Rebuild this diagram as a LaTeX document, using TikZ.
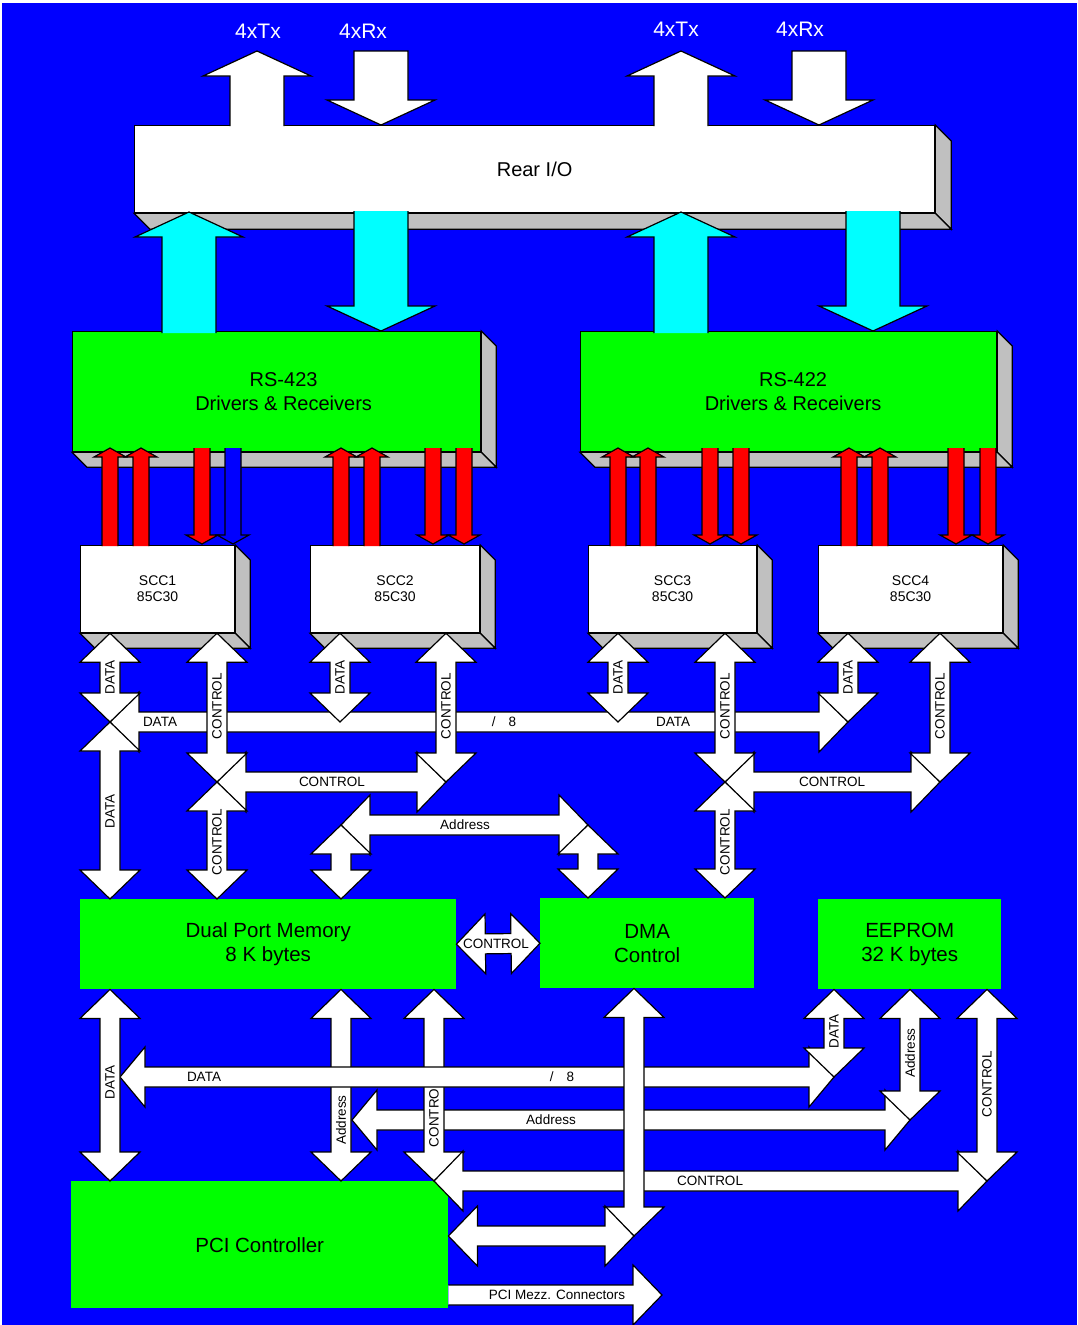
\documentclass[tikz,border=0pt]{standalone}
\usepackage{fontspec}
\setmainfont{Liberation Sans}
\usetikzlibrary{calc}
\definecolor{facegray}{RGB}{192,192,192}
\definecolor{aqua}{RGB}{0,255,255}
\definecolor{lime}{RGB}{0,255,0}
\definecolor{deepblue}{RGB}{0,0,255}
\definecolor{pured}{RGB}{255,0,0}

\begin{document}
\begin{tikzpicture}[x=1pt, y=-1pt,
  blk/.style={draw=black, line width=1.2pt, line join=miter},
  box/.style={blk, fill=white, inner sep=0pt, anchor=north west, align=center},
  mem/.style={fill=lime, inner sep=0pt, anchor=north west, align=center, font=\fontsize{20.5}{24}\selectfont},
  face/.style={blk, fill=facegray},
  lbl/.style={inner sep=0pt, font=\fontsize{13.5}{15}\selectfont},
  vlbl/.style={lbl, rotate=90},
  toplbl/.style={inner sep=0pt, text=white, font=\fontsize{21}{24}\selectfont},
  dims/.code args={#1/#2/#3}{\def\aL{#1}\def\aH{#2}\def\aS{#3}},
  two heads/.style={to path={
    -- ($(\tikztostart)!\aL!(\tikztotarget)!\aH!90:(\tikztotarget)$)
    -- ($(\tikztostart)!\aL!(\tikztotarget)!\aS!90:(\tikztotarget)$)
    -- ($(\tikztotarget)!\aL!(\tikztostart)!\aS!-90:(\tikztostart)$)
    -- ($(\tikztotarget)!\aL!(\tikztostart)!\aH!-90:(\tikztostart)$)
    -- (\tikztotarget)
    -- ($(\tikztotarget)!\aL!(\tikztostart)!\aH!90:(\tikztostart)$)
    -- ($(\tikztotarget)!\aL!(\tikztostart)!\aS!90:(\tikztostart)$)
    -- ($(\tikztostart)!\aL!(\tikztotarget)!\aS!-90:(\tikztotarget)$)
    -- ($(\tikztostart)!\aL!(\tikztotarget)!\aH!-90:(\tikztotarget)$)
    -- cycle}},
  one head/.style={to path={
    ($(\tikztostart)!\aS!90:(\tikztotarget)$)
    -- ($(\tikztotarget)!\aL!(\tikztostart)!\aS!-90:(\tikztostart)$)
    -- ($(\tikztotarget)!\aL!(\tikztostart)!\aH!-90:(\tikztostart)$)
    -- (\tikztotarget)
    -- ($(\tikztotarget)!\aL!(\tikztostart)!\aH!90:(\tikztostart)$)
    -- ($(\tikztotarget)!\aL!(\tikztostart)!\aS!90:(\tikztostart)$)
    -- ($(\tikztostart)!\aS!-90:(\tikztotarget)$)
    -- cycle}},
  open head/.style={to path={
    ($(\tikztostart)!\aS!90:(\tikztotarget)$)
    -- ($(\tikztotarget)!\aL!(\tikztostart)!\aS!-90:(\tikztostart)$)
    -- ($(\tikztotarget)!\aL!(\tikztostart)!\aH!-90:(\tikztostart)$)
    -- (\tikztotarget)
    -- ($(\tikztotarget)!\aL!(\tikztostart)!\aH!90:(\tikztostart)$)
    -- ($(\tikztotarget)!\aL!(\tikztostart)!\aS!90:(\tikztostart)$)
    -- ($(\tikztostart)!\aS!-90:(\tikztotarget)$)}},
  bus/.style={blk, fill=white, dims=29pt/30pt/10pt, two heads},
  fatarr/.style={blk, fill=white, dims=25pt/54pt/27pt},
  redarr/.style={blk, fill=pured, dims=9pt/16pt/8pt, open head},
]
\useasboundingbox (0,0) rectangle (1077,1325);
\fill[deepblue] (2,3) rectangle (1077,1325);

% boxes
\node[box, minimum width=800pt, minimum height=87pt, font=\fontsize{20}{24}\selectfont] (rio) at (134,125) {Rear I/O};
\node[box, fill=lime, minimum width=408pt, minimum height=120pt, font=\fontsize{20}{24}\selectfont] (rs3) at (72,331) {\hspace*{14pt}RS-423\\\hspace*{14pt}Drivers \& Receivers};
\node[box, fill=lime, minimum width=416pt, minimum height=120pt, font=\fontsize{20}{24}\selectfont] (rs2) at (580,331) {\hspace*{9pt}RS-422\\\hspace*{9pt}Drivers \& Receivers};
\node[box, minimum width=154pt, minimum height=87pt, font=\fontsize{14}{16}\selectfont] (scc1) at (80,545) {SCC1\\85C30};
\node[box, minimum width=169pt, minimum height=87pt, font=\fontsize{14}{16}\selectfont] (scc2) at (310,545) {SCC2\\85C30};
\node[box, minimum width=168pt, minimum height=87pt, font=\fontsize{14}{16}\selectfont] (scc3) at (588,545) {SCC3\\85C30};
\node[box, minimum width=184pt, minimum height=87pt, font=\fontsize{14}{16}\selectfont] (scc4) at (818,545) {SCC4\\85C30};
\foreach \b/\dd in {rio/16,rs3/15,rs2/15,scc1/15,scc2/15,scc3/15,scc4/15} {
  \filldraw[face] (\b.north east) -- ++(\dd,\dd) -- ($(\b.south east)+(\dd,\dd)$) -- (\b.south east) -- cycle;
  \filldraw[face] (\b.south west) -- ++(\dd,\dd) -- ($(\b.south east)+(\dd,\dd)$) -- (\b.south east) -- cycle;
}
\node[mem, minimum width=376pt, minimum height=90pt] (dpm) at (80,899) {Dual Port Memory\\8 K bytes};
\node[mem, minimum width=214pt, minimum height=90pt] (dma) at (540,898) {DMA\\Control};
\node[mem, minimum width=183pt, minimum height=90pt] (eep) at (818,899) {EEPROM\\32 K bytes};
\node[mem, minimum width=377pt, minimum height=127pt] (pci) at (71,1181) {PCI Controller};

% rear I/O ports
\coordinate (tx1) at (257,51);
\coordinate (tx1f) at (257,126);
\coordinate (rx1) at (381,51);
\coordinate (tx2) at (681,51);
\coordinate (tx2f) at (681,126);
\coordinate (rx2) at (819,51);
\path[fatarr, open head] (tx1f) to (tx1);
\path[fatarr, one head] (rx1) to (rx1 |- rio.north);
\path[fatarr, open head] (tx2f) to (tx2);
\path[fatarr, one head] (rx2) to (rx2 |- rio.north);
\node[toplbl] (ltx1) at (258,31) {4xTx};
\node[toplbl] (lrx1) at (363,31) {4xRx};
\node[toplbl] (ltx2) at (676,29) {4xTx};
\node[toplbl] (lrx2) at (800,29) {4xRx};

% drivers to rear I/O
\coordinate (ct1) at (189,212);  \coordinate (ct1f) at (189,333);
\coordinate (cr1f) at (381,211); \coordinate (cr1) at (381,331);
\coordinate (ct2) at (681,212);  \coordinate (ct2f) at (681,333);
\coordinate (cr2f) at (873,211); \coordinate (cr2) at (873,331);
\path[fatarr, fill=aqua, open head] (ct1f) to (ct1);
\path[fatarr, fill=aqua, open head] (cr1f) to (cr1);
\path[fatarr, fill=aqua, open head] (ct2f) to (ct2);
\path[fatarr, fill=aqua, open head] (cr2f) to (cr2);

% SCC to drivers
\foreach \b/\dx in {scc1/30,scc1/61,scc2/31,scc2/62,scc3/30,scc3/60,scc4/31,scc4/62} {
  \coordinate (p) at ($(\b.north west)+(\dx,1)$);
  \coordinate (q) at ($(\b.north west)+(\dx,-97)$);
  \path[redarr] (p) to (q);
}
\foreach \b/\dx in {scc1/122,scc2/123,scc2/154,scc3/122,scc3/153,scc4/138,scc4/170} {
  \coordinate (p) at ($(\b.north west)+(\dx,-97)$);
  \coordinate (q) at ($(\b.north west)+(\dx,-1)$);
  \path[redarr] (p) to (q);
}
\coordinate (bp) at ($(scc1.north west)+(153,-97)$);
\coordinate (bq) at ($(scc1.north west)+(153,-1)$);
\path[redarr, fill=deepblue] (bp) to (bq);

% local buses
\coordinate (jd) at (110,722);
\coordinate (jd2) at (340,722);
\coordinate (jd3) at (618,722);
\coordinate (jd4) at (848,722);
\coordinate (jc1) at (217,782);
\coordinate (jc2) at (446,782);
\coordinate (jc3) at (725,782);
\coordinate (jc4) at (940,782);
\coordinate (ja1) at (341,825);
\coordinate (ja2) at (588,825);

\path[bus] (jd) to (jd4);
\node[lbl] (ldat1) at (160,722) {DATA};
\node[lbl] (lwid1) at (504,722) {/\hspace{13pt}8};
\node[lbl] (ldat2) at (673,722) {DATA};
\path[bus] (jc1) to (jc2);
\node[lbl] (lctl1) at (332,782) {CONTROL};
\path[bus] (jc3) to (jc4);
\node[lbl] (lctl2) at (832,782) {CONTROL};
\path[bus] (ja1) to (ja2);
\node[lbl] (ladr1) at (465,825) {Address};

\path[bus] (jd |- scc1.south) to (jd);
\node[vlbl] (vd1) at (110,677) {DATA};
\path[bus] (jc1 |- scc1.south) to (jc1);
\node[vlbl] (vc1) at (217,706) {CONTROL};
\path[bus] (jd2 |- scc2.south) to (jd2);
\node[vlbl] (vd2) at (340,677) {DATA};
\path[bus] (jc2 |- scc2.south) to (jc2);
\node[vlbl] (vc2) at (446,706) {CONTROL};
\path[bus] (jd3 |- scc3.south) to (jd3);
\node[vlbl] (vd3) at (618,677) {DATA};
\path[bus] (jc3 |- scc3.south) to (jc3);
\node[vlbl] (vc3) at (725,706) {CONTROL};
\path[bus] (jd4 |- scc4.south) to (jd4);
\node[vlbl] (vd4) at (848,677) {DATA};
\path[bus] (jc4 |- scc4.south) to (jc4);
\node[vlbl] (vc4) at (940,706) {CONTROL};

\path[bus] (jd) to (jd |- dpm.north);
\node[vlbl] (vd5) at (110,811) {DATA};
\path[bus] (jc1) to (jc1 |- dpm.north);
\node[vlbl] (vc5) at (217,842) {CONTROL};
\path[bus] (jc3) to (jc3 |- dma.north);
\node[vlbl] (vc6) at (725,842) {CONTROL};
\path[bus] (ja1) to (ja1 |- dpm.north);
\path[bus] (ja2) to (ja2 |- dma.north);

\path[bus] (dpm.east) to (dma.west);
\node[lbl] (lctl3) at (496,944) {CONTROL};

% PCI side buses
\coordinate (kd0) at (120,1077); \coordinate (kd) at (834,1077);
\coordinate (ka0) at (352,1120); \coordinate (ka) at (910,1120);
\coordinate (kc0) at (434,1181); \coordinate (kc) at (987,1181);
\coordinate (kp) at (634,1236);
\coordinate (mz) at (662,1295);

\path[bus] (ja1 |- dpm.south) to (ja1 |- pci.north);
\node[vlbl] (va1) at (341,1120) {Address};
\path[bus, dims=25pt/30pt/10pt] (ka0) to (ka);
\node[lbl] (ladr2) at (551,1120) {Address};
\path[bus] (kc0 |- dpm.south) to (kc0);
\node[vlbl] (vc7) at (434,1114) {CONTROL};
\path[bus, dims=25pt/30pt/10pt] (kd0) to (kd);
\node[lbl] (ldat3) at (204,1077) {DATA};
\node[lbl] (lwid2) at (562,1077) {/\hspace{13pt}8};
\path[bus] (kc0) to (kc);
\node[lbl] (lctl4) at (710,1181) {CONTROL};
\path[bus] (jd |- dpm.south) to (jd |- pci.north);
\node[vlbl] (vd6) at (110,1082) {DATA};
\path[bus] (kp |- dma.south) to (kp);
\path[bus] (pci.east |- kp) to (kp);
\path[bus, open head] (pci.east |- mz) to (mz);
\node[lbl] (lmez) at (557,1295) {PCI Mezz. Connectors};

\path[bus] (kd |- eep.south) to (kd);
\node[vlbl] (vd7) at (834,1031) {DATA};
\path[bus] (ka |- eep.south) to (ka);
\node[vlbl] (va2) at (910,1053) {Address};
\path[bus] (kc |- eep.south) to (kc);
\node[vlbl] (vc8) at (987,1084) {CONTROL};
\end{tikzpicture}
\end{document}
